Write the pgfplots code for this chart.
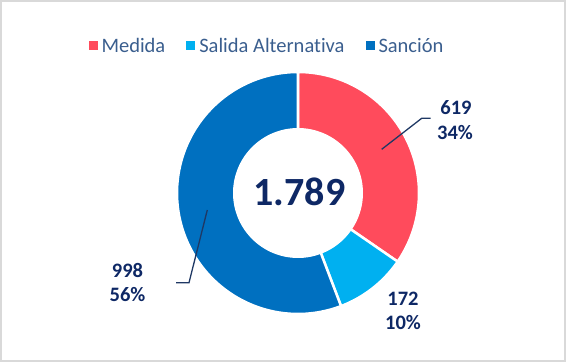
\documentclass[border=0pt]{standalone}
\usepackage{pgfplots}
\pgfplotsset{compat=1.18}
\usepackage{fontspec}
\setmainfont{Carlito}[Ligatures=NoCommon]
\definecolor{cMed}{HTML}{FF4B5C}
\definecolor{cSal}{HTML}{00B0F0}
\definecolor{cSan}{HTML}{0070C0}
\definecolor{navy}{HTML}{0E2865}
\definecolor{leader}{HTML}{1F3864}
\definecolor{legtext}{HTML}{3A5E8E}
\definecolor{frame}{HTML}{D9D9D9}
% data
\def\vMed{619}
\def\vSal{172}
\def\vSan{998}
\pgfmathsetmacro{\tot}{\vMed+\vSal+\vSan}
\pgfmathsetmacro{\aA}{90}
\pgfmathsetmacro{\aB}{90-360*(\vMed/\tot)}
\pgfmathsetmacro{\aC}{\aB-360*(\vSal/\tot)}
\pgfmathsetmacro{\aD}{\aC-360*(\vSan/\tot)}
\def\cx{298}
\def\cy{169}
\def\R{121}
\def\r{65}
\begin{document}
\begin{tikzpicture}
\begin{axis}[
  scale only axis, width=566pt, height=362pt,
  xmin=0, xmax=566, ymin=0, ymax=362,
  hide axis, clip=false,
  legend columns=3,
  legend style={at={(axis cs:267,316)}, anchor=center, draw=none, fill=none,
    font=\fontsize{20.5}{24}\selectfont, text=legtext,
    /tikz/every odd column/.append style={column sep=2pt},
    /tikz/every even column/.append style={column sep=19pt},
    inner sep=0pt},
  legend image code/.code={\fill[#1,draw=none] (0pt,-4.5pt) rectangle (9pt,4.5pt);},
]
\addplot[fill=cMed, draw=white, line width=2.5pt, domain=\aB:\aA, samples=80, variable=\t]
  ({\cx+\R*cos(\t)},{\cy+\R*sin(\t)}) -- (axis cs:\cx,\cy) -- cycle;
\addlegendentry{Medida}
\addplot[fill=cSal, draw=white, line width=2.5pt, domain=\aC:\aB, samples=40, variable=\t]
  ({\cx+\R*cos(\t)},{\cy+\R*sin(\t)}) -- (axis cs:\cx,\cy) -- cycle;
\addlegendentry{Salida Alternativa}
\addplot[fill=cSan, draw=white, line width=2.5pt, domain=\aD:\aC, samples=120, variable=\t]
  ({\cx+\R*cos(\t)},{\cy+\R*sin(\t)}) -- (axis cs:\cx,\cy) -- cycle;
\addlegendentry{Sanción}
\addplot[fill=white, draw=none, domain=0:360, samples=120, variable=\t, forget plot]
  ({\cx+\r*cos(\t)},{\cy+\r*sin(\t)}) -- cycle;
% leader lines
\addplot[leader, line width=1.3pt, forget plot] coordinates {(381.7,212.7) (421.7,243.7) (430.7,243.7)};
\addplot[leader, line width=1.3pt, forget plot] coordinates {(207.3,152) (189,79.3) (176,79.3)};
% labels
\node[anchor=base, text=navy, font=\fontsize{20.5}{24}\selectfont\bfseries, inner sep=0pt] at (axis cs:456,247) {619};
\node[anchor=base, text=navy, font=\fontsize{20.5}{24}\selectfont\bfseries, inner sep=0pt] at (axis cs:455,222) {34\%};
\node[anchor=base, text=navy, font=\fontsize{20.5}{24}\selectfont\bfseries, inner sep=0pt] at (axis cs:403,56) {172};
\node[anchor=base, text=navy, font=\fontsize{20.5}{24}\selectfont\bfseries, inner sep=0pt] at (axis cs:403,32) {10\%};
\node[anchor=base, text=navy, font=\fontsize{20.5}{24}\selectfont\bfseries, inner sep=0pt] at (axis cs:127.5,84) {998};
\node[anchor=base, text=navy, font=\fontsize{20.5}{24}\selectfont\bfseries, inner sep=0pt] at (axis cs:127.5,60) {56\%};
\node[anchor=base, text=navy, font=\fontsize{40}{44}\selectfont\bfseries, inner sep=0pt] at (axis cs:299.5,156) {1.789};
\draw[frame, line width=2pt] (axis cs:1,1) rectangle (axis cs:565,361);
\end{axis}
\end{tikzpicture}
\end{document}
